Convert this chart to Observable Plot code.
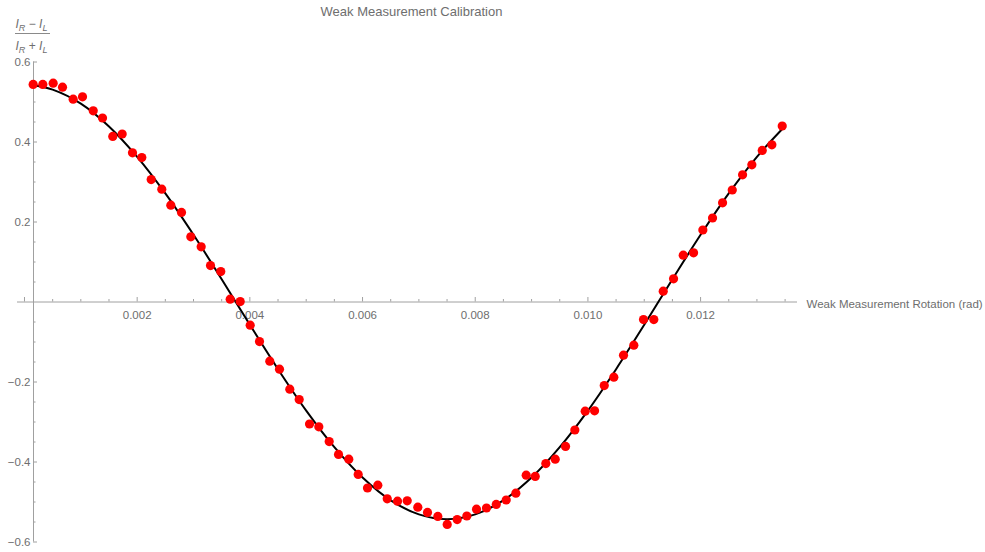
<!DOCTYPE html>
<html><head><meta charset="utf-8">
<script src="https://cdn.jsdelivr.net/npm/d3@7"></script>
<script src="https://cdn.jsdelivr.net/npm/@observablehq/plot@0.6"></script>
<style>
body{margin:0;background:#fff;}
#chart svg{display:block;}
</style>
</head><body><div id="chart"></div>
<script>
// measured points: rotation (rad) and normalized intensity difference
const rotation = [
0.000154,0.000325,0.000509,0.000675,0.000864,0.00103,0.00122,0.001385,0.001567,0.001734,
0.001917,0.002082,0.002249,0.002437,0.002597,0.002787,0.002952,0.003136,0.003302,0.003484,
0.003651,0.003829,0.004006,0.004171,0.004354,0.004526,0.004709,0.004876,0.005059,0.005224,
0.005408,0.005574,0.005756,0.005923,0.006088,0.006271,0.006438,0.006621,0.006793,0.006981,
0.007153,0.007336,0.007503,0.00768,0.007851,0.008023,0.0082,0.008373,0.00855,0.008721,
0.008905,0.009065,0.009253,0.00942,0.009603,0.009768,0.009952,0.010118,0.01029,0.01046,
0.010632,0.010815,0.010987,0.01117,0.011337,0.01152,0.011692,0.011875,0.01204,0.012212,
0.01239,0.012562,0.012745,0.01291,0.013094,0.013265,0.013449];
const contrast = [
0.544,0.544,0.547,0.537,0.507,0.513,0.478,0.460,0.414,0.420,
0.373,0.361,0.306,0.282,0.242,0.224,0.163,0.138,0.091,0.076,
0.007,0.001,-0.058,-0.099,-0.148,-0.168,-0.218,-0.244,-0.305,-0.312,
-0.349,-0.381,-0.393,-0.431,-0.465,-0.458,-0.492,-0.498,-0.497,-0.513,
-0.526,-0.536,-0.556,-0.544,-0.535,-0.518,-0.515,-0.506,-0.495,-0.478,
-0.433,-0.436,-0.404,-0.393,-0.361,-0.320,-0.273,-0.272,-0.209,-0.188,
-0.133,-0.108,-0.044,-0.044,0.027,0.058,0.117,0.123,0.180,0.210,
0.248,0.280,0.318,0.343,0.379,0.393,0.440];

// fitted curve
const fitRotation = [0.00016,0.0005,0.001,0.0015,0.002,0.0025,0.003,0.0035,0.004,0.0045,0.005,0.0055,0.006,0.0065,
0.007,0.0075,0.008,0.0085,0.009,0.0095,0.010,0.0105,0.011,0.0115,0.012,0.0125,0.013,0.01345];
const fitContrast = [0.542,0.531,0.496,0.439,0.363,0.2715,0.168,0.057,-0.057,-0.168,-0.2715,-0.363,-0.439,-0.496,
-0.531,-0.543,-0.531,-0.496,-0.439,-0.363,-0.2715,-0.168,-0.057,0.057,0.168,0.2715,0.363,0.4325];

const xTickLabels = [0.002,0.004,0.006,0.008,0.010,0.012];
const xMajorTicks = [0,0.002,0.004,0.006,0.008,0.010,0.012];
const xMinorTicks = [0.0005,0.001,0.0015,0.0025,0.003,0.0035,0.0045,0.005,0.0055,0.0065,0.007,0.0075,
0.0085,0.009,0.0095,0.0105,0.011,0.0115,0.0125,0.013,0.0135];
const yTickLabels = [-0.6,-0.4,-0.2,0.2,0.4,0.6];
const yMinorTicks = [-0.55,-0.5,-0.45,-0.35,-0.3,-0.25,-0.15,-0.1,-0.05,0.05,0.1,0.15,0.25,0.3,0.35,0.45,0.5,0.55];

const title = "Weak Measurement Calibration";
const xLabel = "Weak Measurement Rotation (rad)";

const xMin = 0.00016, xMax = 0.01372;
const points = rotation.map((r, i) => ({r, c: contrast[i]}));
const fit = fitRotation.map((r, i) => ({r, c: fitContrast[i]}));

const axisColor = "#a0a0a0";
const labelColor = "#6e6e6e";
const pxX = (xMax - xMin) / 764;   // data units per pixel, x
const pxY = 1.2 / 480;             // data units per pixel, y

const chart = Plot.plot({
  width: 985,
  height: 552,
  marginLeft: 33,
  marginRight: 188,
  marginTop: 61.5,
  marginBottom: 10.5,
  x: {domain: [xMin, xMax], axis: null},
  y: {domain: [-0.6, 0.6], axis: null},
  style: {fontFamily: "'Liberation Sans', Arial, sans-serif", background: "#fff"},
  marks: [
    Plot.ruleY([0], {x1: xMin - 16 * pxX, x2: xMax, stroke: axisColor, strokeWidth: 1}),
    Plot.ruleX([xMin], {y1: -0.6, y2: 0.6, stroke: axisColor, strokeWidth: 1}),
    Plot.ruleX(xMajorTicks, {x: d => d, y1: 0, y2: 4.5 * pxY, stroke: axisColor}),
    Plot.ruleX(xMinorTicks, {x: d => d, y1: 0, y2: 2.5 * pxY, stroke: axisColor}),
    Plot.ruleY(yTickLabels, {y: d => d, x1: xMin, x2: xMin + 4 * pxX, stroke: axisColor}),
    Plot.ruleY(yMinorTicks, {y: d => d, x1: xMin, x2: xMin + 2.5 * pxX, stroke: axisColor}),
    Plot.text(xTickLabels, {x: d => d, y: 0, text: d => d3.format(".3f")(d), lineAnchor: "bottom", dy: 17,
      fill: labelColor, fontSize: 11.5}),
    Plot.text(yTickLabels, {x: xMin, y: d => d, text: d => d3.format(".1f")(d), textAnchor: "end", dx: -3,
      fill: labelColor, fontSize: 11.5}),
    Plot.text([xLabel], {x: xMax, y: 0, text: d => d, textAnchor: "start", dx: 9, dy: 2.5,
      fill: labelColor, fontSize: 11.5}),
    Plot.text([title], {frameAnchor: "top", text: d => d, lineAnchor: "bottom", dy: -46.5, dx: -4,
      fill: labelColor, fontSize: 13}),
    Plot.line(fit, {x: "r", y: "c", stroke: "black", strokeWidth: 2, curve: "catmull-rom"}),
    Plot.dot(points, {x: "r", y: "c", r: 4.6, fill: "#ff0000", stroke: "none"})
  ]
});

// y-axis label as a fraction (I_R - I_L)/(I_R + I_L)
const svg = d3.select(chart);
const g = svg.append("g").attr("fill", labelColor).attr("text-anchor", "start")
  .attr("font-family", "'Liberation Sans', Arial, sans-serif").attr("font-size", 12);
function frac(y, op) {
  const t = g.append("text").attr("x", 15.5).attr("y", y);
  t.append("tspan").attr("font-style", "italic").text("I");
  t.append("tspan").attr("font-style", "italic").attr("font-size", 9).attr("dy", 3).text("R");
  t.append("tspan").attr("dy", -3).text(" " + op + " ");
  t.append("tspan").attr("font-style", "italic").text("I");
  t.append("tspan").attr("font-style", "italic").attr("font-size", 9).attr("dy", 3).text("L");
}
frac(28, "\u2212");
frac(49.5, "+");
svg.append("line").attr("x1", 15).attr("x2", 50).attr("y1", 33.5).attr("y2", 33.5)
  .attr("stroke", "#8a8a8a").attr("stroke-width", 1);

document.getElementById("chart").appendChild(chart);
</script>
</body></html>
